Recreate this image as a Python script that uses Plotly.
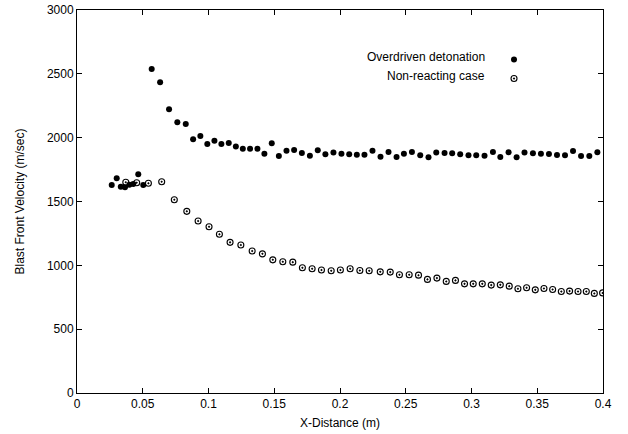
import plotly.graph_objects as go

# Overdriven detonation (filled circles)
od_x = [0.0264, 0.0302, 0.0333, 0.0365, 0.0398, 0.0428, 0.0466, 0.0504, 0.0568, 0.0632,
        0.0700, 0.0763, 0.0827, 0.0883, 0.0938, 0.0991, 0.1045, 0.1098, 0.1154, 0.1208,
        0.1261, 0.1316, 0.1372, 0.1425, 0.1481, 0.1535, 0.1593, 0.1651, 0.1710, 0.1771,
        0.1831, 0.1889, 0.1950, 0.2011, 0.2070, 0.2128, 0.2186, 0.2247, 0.2308, 0.2369,
        0.2430, 0.2486, 0.2547, 0.2610, 0.2673, 0.2732, 0.2795, 0.2853, 0.2914, 0.2977,
        0.3036, 0.3099, 0.3163, 0.3219, 0.3282, 0.3343, 0.3403, 0.3467, 0.3528, 0.3589,
        0.3650, 0.3711, 0.3772, 0.3833, 0.3896, 0.3957]
od_y = [1629, 1682, 1616, 1611, 1632, 1637, 1713, 1629, 2537, 2435,
        2223, 2121, 2108, 1988, 2014, 1951, 1975, 1951, 1959, 1930,
        1914, 1914, 1914, 1875, 1957, 1857, 1898, 1904, 1880, 1859,
        1902, 1870, 1883, 1875, 1870, 1867, 1867, 1898, 1851, 1888,
        1849, 1875, 1888, 1862, 1847, 1883, 1880, 1878, 1870, 1862,
        1862, 1859, 1888, 1849, 1886, 1847, 1883, 1878, 1875, 1873,
        1865, 1862, 1896, 1857, 1857, 1886]

# Non-reacting case (open circles with dot)
nr_x = [0.0371, 0.0454, 0.0543, 0.0644, 0.0740, 0.0835, 0.0921, 0.1004, 0.1083, 0.1164,
        0.1246, 0.1332, 0.1410, 0.1489, 0.1565, 0.1641, 0.1714, 0.1788, 0.1859, 0.1933,
        0.2003, 0.2077, 0.2151, 0.2222, 0.2306, 0.2382, 0.2452, 0.2526, 0.2597, 0.2665,
        0.2737, 0.2808, 0.2878, 0.2947, 0.3013, 0.3082, 0.3150, 0.3219, 0.3287, 0.3353,
        0.3419, 0.3485, 0.3551, 0.3617, 0.3683, 0.3746, 0.3810, 0.3873, 0.3934, 0.3997]
nr_y = [1651, 1647, 1643, 1655, 1514, 1423, 1347, 1302, 1243, 1180,
        1159, 1112, 1090, 1043, 1028, 1025, 981, 973, 963, 957,
        963, 973, 960, 957, 949, 947, 926, 926, 923, 890,
        900, 874, 882, 855, 855, 855, 845, 847, 837, 816,
        824, 808, 819, 811, 795, 798, 795, 795, 780, 784]

series_names = ["Overdriven detonation", "Non-reacting case"]
x_ticks = [0, 0.05, 0.1, 0.15, 0.2, 0.25, 0.3, 0.35, 0.4]
x_tick_labels = ["0", "0.05", "0.1", "0.15", "0.2", "0.25", "0.3", "0.35", "0.4"]
y_ticks = [0, 500, 1000, 1500, 2000, 2500, 3000]

FONT = "Liberation Sans, Arial, Helvetica, sans-serif"

fig = go.Figure()
fig.add_trace(go.Scatter(
    x=od_x, y=od_y, mode="markers", name=" ",
    marker=dict(symbol="circle", size=6, color="black", line=dict(width=0)),
))
fig.add_trace(go.Scatter(
    x=nr_x, y=nr_y, mode="markers", name="  ",
    marker=dict(symbol="circle-open-dot", size=6, color="black", line=dict(width=1.1, color="black")),
))

axis_common = dict(
    showgrid=False, zeroline=False, showline=True, linecolor="black", linewidth=1,
    mirror="ticks", ticks="inside", ticklen=5, tickcolor="black", tickwidth=1,
    tickfont=dict(family=FONT, size=12, color="black"), automargin=False,
)
fig.update_xaxes(range=[0, 0.4], tickvals=x_ticks, ticktext=x_tick_labels,
                 title=dict(text="X-Distance (m)", font=dict(family=FONT, size=12, color="black"), standoff=8),
                 **axis_common)
fig.update_yaxes(range=[0, 3000], tickvals=y_ticks,
                 title=dict(text="Blast Front Velocity (m/sec)", font=dict(family=FONT, size=12, color="black"), standoff=19),
                 **axis_common)

# Legend labels to the left of the symbols (gnuplot style)
label_y = [0.877, 0.828]
for name, yy in zip(series_names, label_y):
    fig.add_annotation(x=0.7795, y=yy, xref="paper", yref="paper", text=name,
                       showarrow=False, xanchor="right", yanchor="middle",
                       font=dict(family=FONT, size=12, color="black"))

fig.update_layout(
    width=628, height=434,
    margin=dict(l=77, r=25, t=10, b=41, autoexpand=False),
    plot_bgcolor="white", paper_bgcolor="white",
    font=dict(family=FONT, size=12, color="black"),
    showlegend=True,
    legend=dict(x=0.7928, y=0.9086, xanchor="left", yanchor="top",
                bgcolor="rgba(0,0,0,0)", itemwidth=30, tracegroupgap=0,
                font=dict(family=FONT, size=10)),
)

fig.write_html("out.html", config={"displayModeBar": False},
               post_script="document.body.style.margin='0';document.body.style.padding='0';")
